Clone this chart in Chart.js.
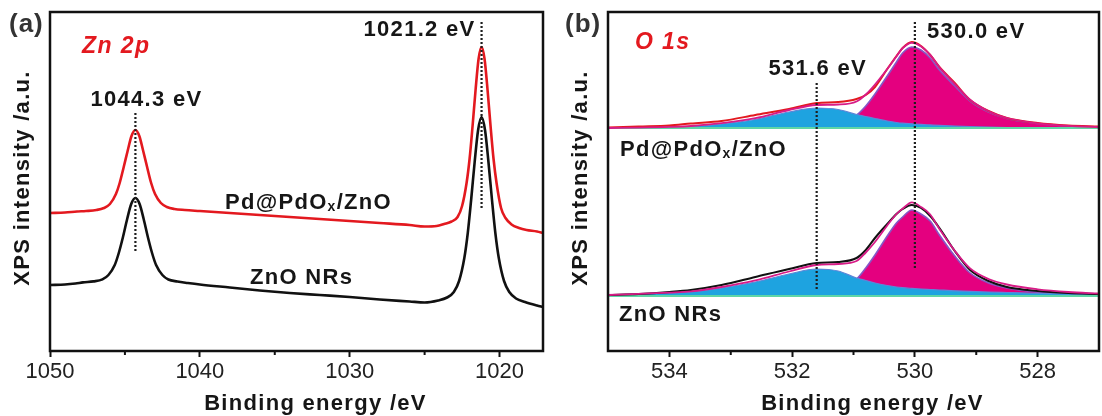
<!DOCTYPE html>
<html>
<head>
<meta charset="utf-8">
<script src="https://cdn.jsdelivr.net/npm/chart.js@4.4.1/dist/chart.umd.min.js"></script>
<style>
  html, body { margin: 0; padding: 0; background: #fff; }
  #wrap { position: relative; width: 1102px; height: 416px; overflow: hidden; background: #fff; }
  canvas { position: absolute; top: 0; }
  #zn { left: 0; }
  #o1s { left: 552px; }
</style>
</head>
<body>
<div id="wrap">
  <canvas id="zn" width="552" height="416"></canvas>
  <canvas id="o1s" width="550" height="416"></canvas>
</div>
<script>
// ---------- Zn 2p spectra (binding energy in eV, intensity in a.u.) ----------
const zn2pEnergyPd = [1050, 1049, 1048.2, 1047.6, 1046.9, 1046.4, 1046.0, 1045.6, 1045.35, 1045.08,
  1044.82, 1044.56, 1044.3, 1044.04, 1043.78, 1043.52, 1043.25, 1042.99, 1042.6, 1042.2,
  1041.7, 1041.0, 1040, 1038, 1036, 1034, 1032, 1030, 1028, 1026,
  1025, 1024.2, 1023.7, 1023.2, 1022.8, 1022.5, 1022.2, 1022.0, 1021.8, 1021.6,
  1021.4, 1021.2, 1021.0, 1020.8, 1020.6, 1020.4, 1020.2, 1019.9, 1019.6, 1019.2,
  1018.7, 1018.2, 1017.5, 1017.1];
const zn2pPd = [138, 138.5, 139.5, 140, 141, 143, 147, 157, 168, 184,
  200, 215, 221, 215, 200, 184, 168, 157, 148, 144,
  142, 141, 140, 138, 136, 134, 132, 130, 128, 126,
  124.5, 125, 127, 129.5, 134, 145, 168, 192, 225, 261,
  292, 304, 292, 261, 225, 192, 168, 143, 133, 126.5,
  123, 121, 119.5, 118];

const zn2pEnergyZnO = [1050, 1049, 1048.3, 1047.8, 1047.1, 1046.5, 1046.1, 1045.68, 1045.41, 1045.13,
  1044.85, 1044.58, 1044.3, 1044.02, 1043.75, 1043.47, 1043.19, 1042.92, 1042.5, 1042.1,
  1041.5, 1040.8, 1040, 1038, 1036, 1034, 1032, 1030, 1028, 1026,
  1025, 1024.1, 1023.5, 1023.05, 1022.7, 1022.35, 1022.12, 1021.89, 1021.66, 1021.43,
  1021.2, 1020.97, 1020.74, 1020.51, 1020.28, 1020.05, 1019.7, 1019.35, 1018.9, 1018.3,
  1017.5, 1017.1];
const zn2pZnO = [66, 66.5, 67.5, 68.6, 69.6, 71.6, 76, 86, 98, 114,
  132, 147, 153, 147, 132, 114, 98, 86, 76, 71.5,
  69.5, 68, 66.5, 63.5, 60.5, 58, 56, 54, 51.5, 49.5,
  48.5, 50.5, 53.5, 59, 70, 93, 118, 152, 189, 221,
  234, 221, 189, 152, 118, 93, 70, 59, 52.5, 49,
  45.5, 44];

const zn2pPeaks = [1044.3, 1021.2];
const zn2pTicks = [1050, 1040, 1030, 1020];
const zn2pMinorTicks = [1045, 1035, 1025];

// ---------- O 1s spectra with fitted components (heights above each spectrum's background) ----------
const o1sEnergy = [535, 534.5, 534, 533.65, 533.15, 532.6, 532.05, 531.6, 531.25, 530.95,
  530.8, 530.65, 530.45, 530.3, 530.2, 530.05, 529.9, 529.75, 529.6, 529.35,
  529.1, 528.8, 528.5, 528, 527.5, 527];

// Pd@PdOx/ZnO
const o1sPdRaw = [0.5, 1.5, 2.5, 4.5, 7, 13, 19, 25, 26, 29,
  33, 41, 59, 72, 80, 86, 82, 73, 61, 45,
  28, 17, 10, 5, 2.5, 1.5];
const o1sPdFit = [0, 0.4, 1.1, 2, 4.8, 9.8, 18, 23, 23.5, 26.5,
  33.5, 43.5, 59, 71.5, 79.8, 85.2, 81.6, 73.1, 60.6, 43.9,
  28.3, 16.8, 10, 4.7, 2.1, 1];
const o1sPdLattice = [0, 0.1, 0.3, 0.5, 0.8, 1.3, 2, 3, 5, 13,
  22, 34, 52, 66, 75, 81, 78, 70, 58, 42,
  27, 16, 9.5, 4.5, 2, 1];
const o1sPdDefect = [0, 0.3, 0.8, 1.5, 4, 8.5, 16, 20, 18.5, 13.5,
  11.5, 9.5, 7, 5.5, 4.8, 4.2, 3.6, 3.1, 2.6, 1.9,
  1.3, 0.8, 0.5, 0.2, 0.1, 0];

// ZnO NRs
const o1sZnORaw = [1, 2, 4, 6, 11, 19, 27, 33, 34, 38,
  46, 58, 72, 82, 87, 91, 88, 80, 68, 45,
  26, 15, 9, 5, 3, 2];
const o1sZnOFit = [1, 2.2, 3.4, 4.6, 9, 15.6, 24.5, 31, 32, 35,
  43.5, 54, 70.5, 82, 87.3, 93.6, 89, 81.5, 67, 45.2,
  27.6, 17, 11.5, 6.7, 4, 2.5];
const o1sZnOLattice = [0, 0.2, 0.4, 0.6, 1, 1.6, 2.5, 4, 7, 17,
  28, 41, 60, 73, 79, 86, 82, 75, 61, 40,
  23, 13, 8, 4, 2, 1];
const o1sZnODefect = [1, 2, 3, 4, 8, 14, 22, 27, 25, 18,
  15.5, 13, 10.5, 9, 8.3, 7.6, 7, 6.5, 6, 5.2,
  4.6, 4, 3.5, 2.7, 2, 1.5];

const o1sBackgroundEnergy = [535, 527];
const o1sBackground = [0, 0];

const o1sPeaks = [531.6, 530.0];
const o1sTicks = [534, 532, 530, 528];
const o1sMinorTicks = [533, 531, 529];

// vertical stacking of the two O 1s spectra
const o1sOffsetPd = 223;
const o1sOffsetZnO = 55;

// ---------- drawing helpers ----------
const FONT = '"Liberation Sans", Arial, Helvetica, sans-serif';
const INK = '#161616';

const pts = (xs, ys, off = 0) => xs.map((x, i) => ({ x: x, y: ys[i] + off }));

function drawText(ctx, s, x, y, o) {
  ctx.save();
  ctx.font = o.font;
  ctx.fillStyle = o.color || INK;
  ctx.letterSpacing = o.ls || '0px';
  ctx.textAlign = o.align || 'left';
  ctx.textBaseline = 'middle';
  ctx.fillText(s, x, y);
  ctx.restore();
}

// label with a subscript part, e.g. Pd@PdOx/ZnO
function drawRich(ctx, parts, x, y) {
  ctx.save();
  ctx.fillStyle = INK;
  ctx.textBaseline = 'middle';
  ctx.textAlign = 'left';
  ctx.letterSpacing = '1.3px';
  let cx = x;
  for (const p of parts) {
    ctx.font = p.sub ? `bold 14px ${FONT}` : `bold 22px ${FONT}`;
    ctx.fillText(p.t, cx, p.sub ? y + 4 : y);
    cx += ctx.measureText(p.t).width;
  }
  ctx.restore();
}

function dotted(ctx, x, y1, y2) {
  ctx.save();
  ctx.strokeStyle = '#1e1e1e';
  ctx.lineWidth = 2.2;
  ctx.setLineDash([2, 2]);
  ctx.beginPath();
  ctx.moveTo(x, y1);
  ctx.lineTo(x, y2);
  ctx.stroke();
  ctx.restore();
}

function frameAndMinor(chart, minor) {
  const ctx = chart.ctx, a = chart.chartArea, xs = chart.scales.x;
  ctx.save();
  ctx.strokeStyle = '#111';
  ctx.lineWidth = 2;
  ctx.beginPath();
  for (const v of minor) {
    const px = xs.getPixelForValue(v);
    ctx.moveTo(px, a.bottom);
    ctx.lineTo(px, a.bottom + 4);
  }
  ctx.stroke();
  ctx.lineWidth = 2.5;
  ctx.strokeRect(a.left, a.top, a.right - a.left, a.bottom - a.top);
  ctx.restore();
}

function axisTitles(chart) {
  const ctx = chart.ctx, a = chart.chartArea;
  drawText(ctx, 'Binding energy /eV', (a.left + a.right) / 2 + 19, 404,
    { font: `bold 22px ${FONT}`, align: 'center', ls: '1.3px' });
  ctx.save();
  ctx.translate(a.left - 27, 178);
  ctx.rotate(-Math.PI / 2);
  drawText(ctx, 'XPS intensity /a.u.', 0, 0, { font: `bold 22px ${FONT}`, align: 'center', ls: '1.3px' });
  ctx.restore();
}

function xAxis(min, max, ticks) {
  return {
    type: 'linear',
    min: min, max: max,
    reverse: true,
    afterBuildTicks: s => { s.ticks = ticks.map(v => ({ value: v })); },
    afterFit: s => { s.height = 65; },
    grid: { display: true, drawOnChartArea: false, drawTicks: true, tickLength: 6, tickWidth: 2, tickColor: '#111' },
    border: { display: false },
    ticks: {
      autoSkip: false, maxRotation: 0, minRotation: 0, padding: 2,
      color: '#222', font: { family: FONT, size: 22 },
      callback: v => String(v)
    }
  };
}

const lineBase = { pointRadius: 0, cubicInterpolationMode: 'monotone', fill: false };

Chart.defaults.animation = false;
Chart.defaults.plugins.legend.display = false;
Chart.defaults.plugins.tooltip.enabled = false;

// ---------- (a) Zn 2p ----------
new Chart(document.getElementById('zn'), {
  type: 'line',
  data: {
    datasets: [
      Object.assign({ data: pts(zn2pEnergyPd, zn2pPd), borderColor: '#e3191f', borderWidth: 2.6 }, lineBase),
      Object.assign({ data: pts(zn2pEnergyZnO, zn2pZnO), borderColor: '#111111', borderWidth: 2.6 }, lineBase)
    ]
  },
  options: {
    responsive: false,
    devicePixelRatio: 1,
    layout: { padding: { left: 50, right: 9, top: 12, bottom: 0 } },
    scales: {
      x: xAxis(1017.1, 1050, zn2pTicks),
      y: { type: 'linear', min: 0, max: 339, display: false }
    }
  },
  plugins: [{
    id: 'zn2pDecor',
    afterDraw(chart) {
      const ctx = chart.ctx, xs = chart.scales.x, ys = chart.scales.y;
      frameAndMinor(chart, zn2pMinorTicks);
      axisTitles(chart);
      // peak markers and their positions
      const p0 = xs.getPixelForValue(zn2pPeaks[0]);
      const p1 = xs.getPixelForValue(zn2pPeaks[1]);
      dotted(ctx, p0, ys.getPixelForValue(238), ys.getPixelForValue(98));
      dotted(ctx, p1, ys.getPixelForValue(329), ys.getPixelForValue(143));
      drawText(ctx, zn2pPeaks[0].toFixed(1) + ' eV', p0 + 11, 100,
        { font: `bold 22px ${FONT}`, align: 'center', ls: '1.3px' });
      drawText(ctx, zn2pPeaks[1].toFixed(1) + ' eV', p1 - 6, 30,
        { font: `bold 22px ${FONT}`, align: 'right', ls: '1.3px' });
      // panel tag, core level and sample names
      drawText(ctx, '(a)', 9, 25, { font: `bold 26px ${FONT}`, color: '#333', ls: '1px' });
      drawText(ctx, 'Zn 2p', 82, 47, { font: `italic bold 23px ${FONT}`, color: '#e3191f', ls: '1.4px' });
      drawRich(ctx, [{ t: 'Pd@PdO' }, { t: 'x', sub: true }, { t: '/ZnO' }], 225, 203);
      drawRich(ctx, [{ t: 'ZnO NRs' }], 250, 278);
    }
  }]
});

// ---------- (b) O 1s ----------
function o1sSet(raw, fit, lattice, defect, off, rawColor) {
  return [
    Object.assign({}, lineBase, { data: pts(o1sEnergy, fit, off), borderColor: '#d81b87', borderWidth: 1.8, order: 1 }),
    Object.assign({}, lineBase, { data: pts(o1sEnergy, raw, off), borderColor: rawColor, borderWidth: 2, order: 2 }),
    Object.assign({}, lineBase, { data: pts(o1sBackgroundEnergy, o1sBackground, off), borderColor: '#5fd6a6', borderWidth: 2, order: 3 }),
    Object.assign({}, lineBase, { data: pts(o1sEnergy, defect, off), fill: { value: off },
      backgroundColor: '#1ea3e0', borderColor: '#5d86d8', borderWidth: 1.2, order: 4 }),
    Object.assign({}, lineBase, { data: pts(o1sEnergy, lattice, off), fill: { value: off },
      backgroundColor: '#e4007f', borderColor: '#8657c6', borderWidth: 1.6, order: 5 })
  ];
}

new Chart(document.getElementById('o1s'), {
  type: 'line',
  data: {
    datasets: [].concat(
      o1sSet(o1sPdRaw, o1sPdFit, o1sPdLattice, o1sPdDefect, o1sOffsetPd, '#e3191f'),
      o1sSet(o1sZnORaw, o1sZnOFit, o1sZnOLattice, o1sZnODefect, o1sOffsetZnO, '#111111')
    )
  },
  options: {
    responsive: false,
    devicePixelRatio: 1,
    layout: { padding: { left: 56, right: 3, top: 12, bottom: 0 } },
    scales: {
      x: xAxis(527, 535, o1sTicks),
      y: { type: 'linear', min: 0, max: 339, display: false }
    }
  },
  plugins: [{
    id: 'o1sDecor',
    afterDraw(chart) {
      const ctx = chart.ctx, xs = chart.scales.x, ys = chart.scales.y;
      frameAndMinor(chart, o1sMinorTicks);
      axisTitles(chart);
      const p0 = xs.getPixelForValue(o1sPeaks[0]);
      const p1 = xs.getPixelForValue(o1sPeaks[1]);
      dotted(ctx, p0, ys.getPixelForValue(268), ys.getPixelForValue(61));
      dotted(ctx, p1, ys.getPixelForValue(329), ys.getPixelForValue(83));
      drawText(ctx, o1sPeaks[0].toFixed(1) + ' eV', p0 + 1, 69,
        { font: `bold 22px ${FONT}`, align: 'center', ls: '1.3px' });
      drawText(ctx, o1sPeaks[1].toFixed(1) + ' eV', p1 + 12, 32,
        { font: `bold 22px ${FONT}`, align: 'left', ls: '1.3px' });
      drawText(ctx, '(b)', 13, 25, { font: `bold 26px ${FONT}`, color: '#333', ls: '1px' });
      drawText(ctx, 'O 1s', 83, 43, { font: `italic bold 23px ${FONT}`, color: '#e3191f', ls: '1.4px' });
      drawRich(ctx, [{ t: 'Pd@PdO' }, { t: 'x', sub: true }, { t: '/ZnO' }], 68, 150);
      drawRich(ctx, [{ t: 'ZnO NRs' }], 67, 315);
    }
  }]
});
</script>
</body>
</html>
